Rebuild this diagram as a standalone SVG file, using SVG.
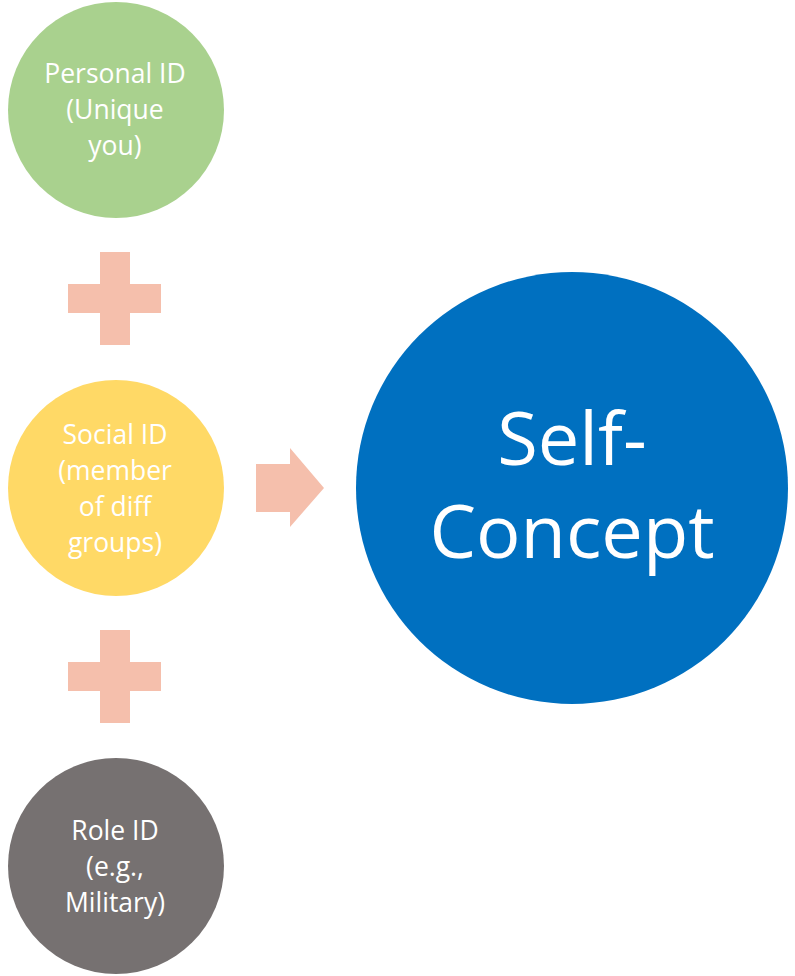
<svg xmlns="http://www.w3.org/2000/svg" width="795" height="976" viewBox="0 0 795 976">
<style>
.lbl{font-family:"Open Sans","Liberation Sans",sans-serif;fill:#ffffff;text-anchor:middle;font-size:26.5px}
.big{font-family:"Open Sans","Liberation Sans",sans-serif;fill:#ffffff;text-anchor:middle;font-size:74px}
.sym{fill:#F5BFAC}
</style>
<rect width="795" height="976" fill="#ffffff"/>
<g id="personal">
<circle cx="116" cy="110" r="108" fill="#A9D18E"/>
<text class="lbl" x="115" y="83">Personal ID</text>
<text class="lbl" x="115" y="119">(Unique</text>
<text class="lbl" x="115" y="155">you)</text>
</g>
<g id="social">
<circle cx="116" cy="488" r="108" fill="#FFD966"/>
<text class="lbl" x="115" y="444">Social ID</text>
<text class="lbl" x="115" y="480">(member</text>
<text class="lbl" x="115" y="516">of diff</text>
<text class="lbl" x="115" y="552">groups)</text>
</g>
<g id="role">
<circle cx="116" cy="866" r="108" fill="#767171"/>
<text class="lbl" x="115" y="840">Role ID</text>
<text class="lbl" x="115" y="876">(e.g.,</text>
<text class="lbl" x="115" y="912">Military)</text>
</g>
<g id="selfconcept">
<circle cx="572" cy="488" r="216" fill="#0070C0"/>
<text class="big" x="572" y="465">Self-</text>
<text class="big" x="572" y="558">Concept</text>
</g>
<g id="connectors">
<path class="sym" d="M100 252H130V284H161V313H130V345H100V313H68V284H100Z"/>
<path class="sym" d="M100 630H130V662H161V691H130V723H100V691H68V662H100Z"/>
<path class="sym" d="M256 464H290V448L324 488L290 527V512H256Z"/>
</g>
</svg>
